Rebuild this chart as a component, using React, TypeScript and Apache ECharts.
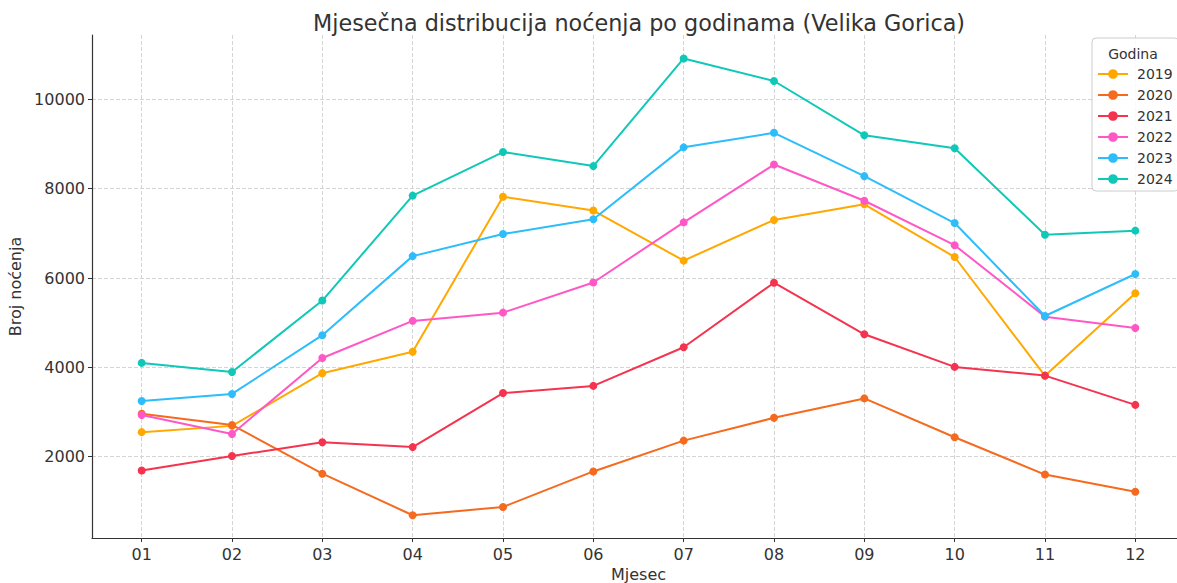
import React, { useEffect, useRef } from "react";
import * as echarts from "echarts";

const monthLabels = ["01", "02", "03", "04", "05", "06", "07", "08", "09", "10", "11", "12"];
const yearNames = ["2019", "2020", "2021", "2022", "2023", "2024"];
const yTicks = [2000, 4000, 6000, 8000, 10000];

const v2019 = [2550, 2690, 3870, 4350, 7820, 7510, 6390, 7300, 7650, 6470, 3810, 5660];
const v2020 = [2960, 2710, 1620, 690, 875, 1670, 2360, 2870, 3305, 2435, 1600, 1215];
const v2021 = [1690, 2015, 2325, 2215, 3425, 3585, 4450, 5895, 4740, 4010, 3815, 3160];
const v2022 = [2935, 2510, 4210, 5040, 5225, 5900, 7245, 8540, 7730, 6735, 5135, 4880];
const v2023 = [3245, 3405, 4720, 6490, 6985, 7315, 8925, 9250, 8280, 7230, 5150, 6090];
const v2024 = [4100, 3895, 5495, 7845, 8820, 8505, 10915, 10410, 9195, 8905, 6970, 7060];

const seriesValues = [v2019, v2020, v2021, v2022, v2023, v2024];
const colors = ["#FFA800", "#F56A1E", "#F5334F", "#FF58C6", "#2DBDFB", "#10C8B8"];

const FONT = "DejaVu Sans";

export default function App() {
  const ref = useRef<HTMLDivElement>(null);
  useEffect(() => {
    if (!ref.current) return;
    const chart = echarts.init(ref.current, null, { renderer: "svg" });
    const monthNums = monthLabels.map((_, i) => i + 1);
    chart.setOption({
      animation: false,
      backgroundColor: "#ffffff",
      textStyle: { fontFamily: FONT },
      title: {
        text: "Mjesečna distribucija noćenja po godinama (Velika Gorica)",
        left: 308,
        top: 7,
        textStyle: { fontFamily: FONT, fontSize: 22.3, fontWeight: "normal", color: "#333" },
      },
      grid: { left: 92, right: -8, top: 35, bottom: 45, containLabel: false, outerBoundsMode: "none" },
      legend: {
        orient: "vertical",
        left: 1092,
        top: 38,
        padding: [29, 6, 5, 5],
        itemWidth: 30,
        itemHeight: 12,
        itemGap: 7,
        backgroundColor: "rgba(255,255,255,0.85)",
        borderColor: "#cccccc",
        borderWidth: 1,
        borderRadius: 4,
        textStyle: { fontFamily: FONT, fontSize: 14, color: "#333", padding: [0, 0, 0, 4] },
        data: yearNames,
      },
      graphic: [
        {
          type: "text",
          x: 1133,
          y: 47,
          style: { text: "Godina", fontFamily: FONT, fontSize: 14, fill: "#333", textAlign: "center" },
          z: 100,
        },
      ],
      xAxis: {
        type: "value",
        min: 0.45,
        max: 12.55,
        name: "Mjesec",
        nameLocation: "middle",
        nameGap: 20,
        nameTextStyle: { fontFamily: FONT, fontSize: 16, color: "#333" },
        axisLine: { show: true, onZero: false, lineStyle: { color: "#333", width: 1.2 } },
        axisTick: { show: true, length: 4, customValues: monthNums, lineStyle: { color: "#333" } },
        axisLabel: {
          customValues: monthNums,
          fontFamily: FONT,
          fontSize: 16,
          color: "#333",
          margin: 8,
          formatter: (v: number) => monthLabels[Math.round(v) - 1] ?? "",
        },
        splitLine: { show: true, lineStyle: { color: "#d4d4d4", type: [4, 2], width: 1 } },
      },
      yAxis: {
        type: "value",
        min: 180,
        max: 11440,
        name: "Broj noćenja",
        nameLocation: "middle",
        nameGap: 58,
        nameTextStyle: { fontFamily: FONT, fontSize: 16, color: "#333" },
        axisLine: { show: true, lineStyle: { color: "#333", width: 1.2 } },
        axisTick: { show: true, length: 4, customValues: yTicks, lineStyle: { color: "#333" } },
        axisLabel: {
          customValues: yTicks,
          fontFamily: FONT,
          fontSize: 16,
          color: "#333",
          margin: 7,
          formatter: (v: number) => String(v),
        },
        splitLine: { show: true, lineStyle: { color: "#d4d4d4", type: [4, 2], width: 1 } },
      },
      series: yearNames.map((name, si) => ({
        name,
        type: "line",
        data: seriesValues[si].map((v, i) => [monthNums[i], v]),
        symbol: "circle",
        symbolSize: 8,
        lineStyle: { width: 2, color: colors[si] },
        itemStyle: { color: colors[si] },
        color: colors[si],
        z: 2 + si,
      })),
    });
    return () => chart.dispose();
  }, []);
  return <div ref={ref} style={{ position: "fixed", left: 0, top: 0, width: 1177, height: 583 }} />;
}
